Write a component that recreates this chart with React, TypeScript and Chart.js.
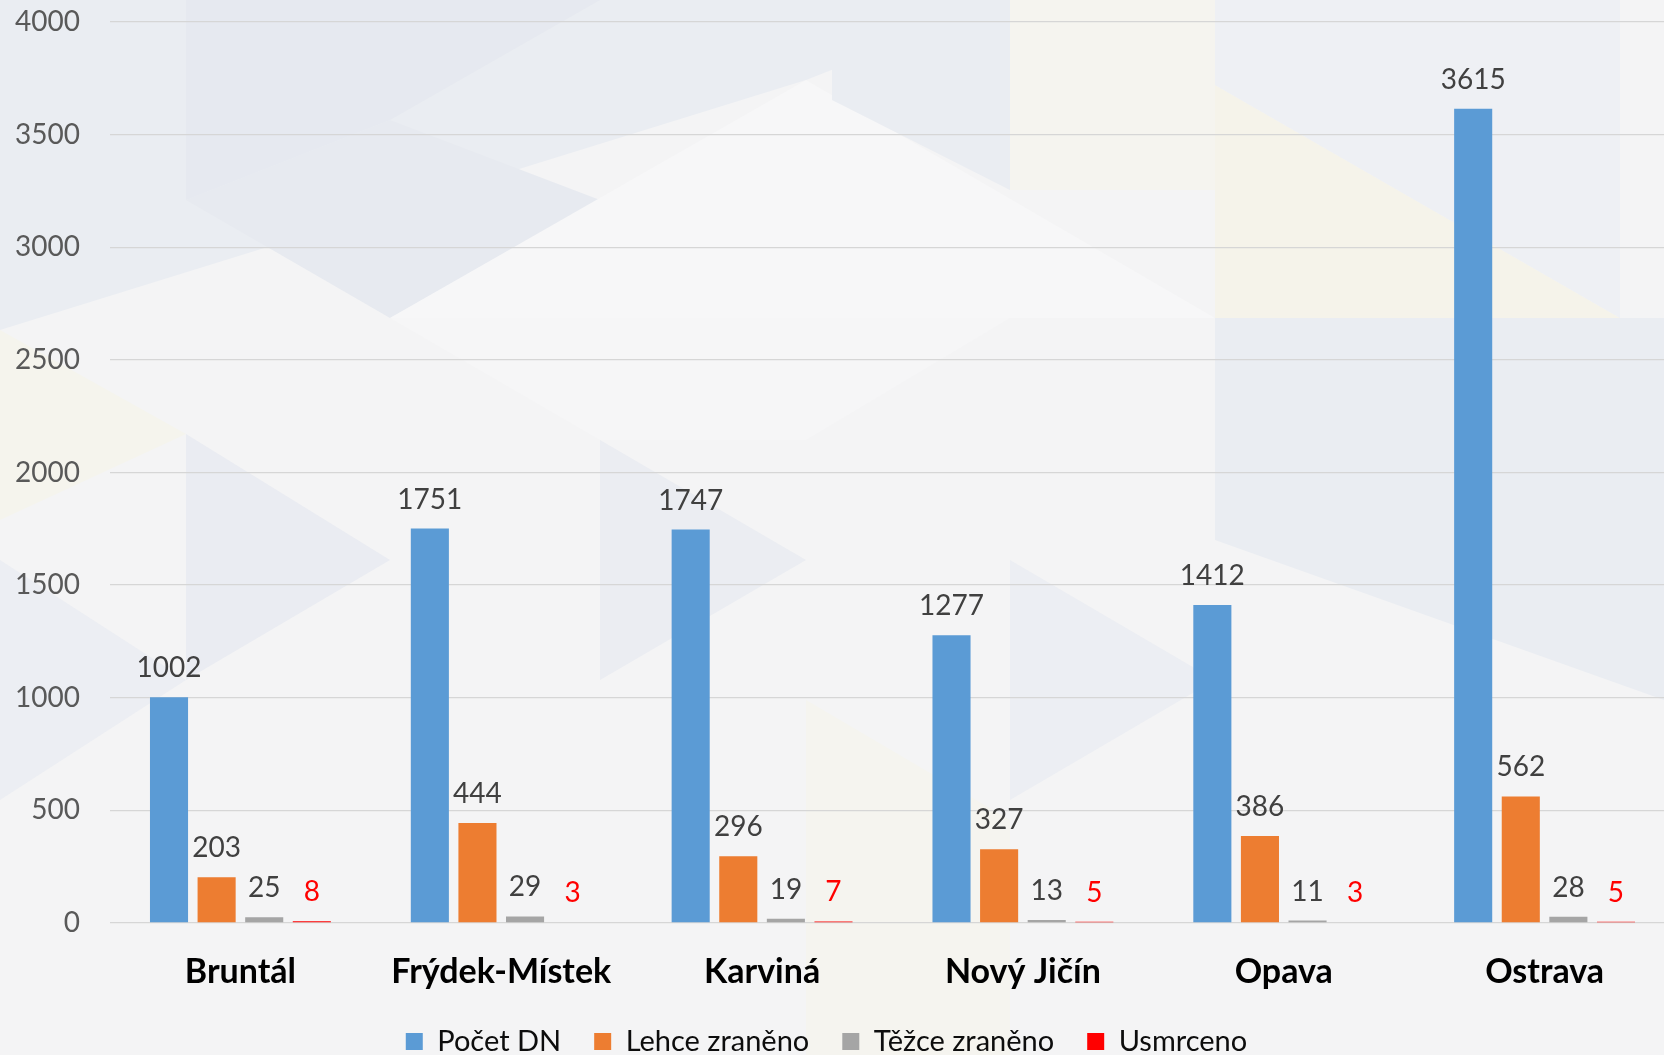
import React, { useEffect, useRef } from "react";
import { Chart, registerables } from "chart.js";

Chart.register(...registerables);

const categories = ["Bruntál", "Frýdek-Místek", "Karviná", "Nový Jičín", "Opava", "Ostrava"];
const pocetDN = [1002, 1751, 1747, 1277, 1412, 3615];
const lehceZraneno = [203, 444, 296, 327, 386, 562];
const tezceZraneno = [25, 29, 19, 13, 11, 28];
const usmrceno = [8, 3, 7, 5, 3, 5];
const seriesNames = ["Počet DN", "Lehce zraněno", "Těžce zraněno", "Usmrceno"];
const seriesColors = ["#5B9BD5", "#ED7D31", "#A5A5A5", "#FF0000"];
const labelColors = ["#404040", "#404040", "#404040", "#FF0000"];
const yMin = 0;
const yMax = 4000;
const yStep = 500;

const FONT = "Lato, 'Open Sans', sans-serif";

const bgPlugin = {
  id: "bgTriangles",
  beforeDraw(chart: any) {
    const ctx = chart.ctx;
    const w = chart.width;
    const h = chart.height;
    ctx.save();
    ctx.fillStyle = "#f4f4f5";
    ctx.fillRect(0, 0, w, h);
    const tri = (pts: number[][], color: string) => {
      ctx.beginPath();
      ctx.moveTo(pts[0][0], pts[0][1]);
      for (let i = 1; i < pts.length; i++) ctx.lineTo(pts[i][0], pts[i][1]);
      ctx.closePath();
      ctx.fillStyle = color;
      ctx.fill();
    };
    // top-left bluish band
    tri([[0, 0], [1010, 0], [806, 80], [0, 330]], "#eaedf2");
    tri([[186, 0], [600, 0], [390, 120], [186, 200]], "#e6e9f0");
    tri([[390, 120], [600, 200], [390, 318], [186, 200]], "#e7eaf0");
    // white big triangle
    tri([[806, 80], [1215, 318], [390, 318]], "#f7f7f8");
    tri([[390, 318], [1010, 318], [806, 440], [600, 440]], "#f6f6f7");
    // top right
    tri([[1010, 0], [1215, 0], [1215, 190], [1010, 190]], "#f5f4ef");
    tri([[832, 0], [1010, 0], [1010, 190], [832, 100]], "#eaedf2");
    tri([[1215, 85], [1620, 318], [1215, 318]], "#f5f3ea");
    tri([[1215, 0], [1620, 0], [1620, 318], [1215, 85]], "#eef0f4");
    // right middle bluish
    tri([[1215, 318], [1664, 318], [1664, 700], [1215, 540]], "#eaedf2");
    // left cream
    tri([[0, 330], [186, 434], [0, 520]], "#f5f4ed");
    tri([[186, 434], [390, 560], [186, 680]], "#eaecf2");
    tri([[0, 560], [186, 680], [0, 800]], "#eceef3");
    // center
    tri([[600, 440], [806, 560], [600, 680]], "#ebedf2");
    tri([[1010, 560], [1215, 680], [1010, 800]], "#eceef3");
    tri([[806, 700], [1010, 820], [1010, 1055], [806, 1055]], "#f5f4ef");
    ctx.restore();
  },
};

const legendShiftPlugin = {
  id: "legendShift",
  afterLayout(chart: any) {
    const lg = chart.legend;
    if (lg) {
      lg.left -= 11;
      lg.right -= 11;
    }
  },
};

const dataLabelPlugin = {
  id: "dataLabels",
  afterDatasetsDraw(chart: any) {
    const ctx = chart.ctx;
    ctx.save();
    ctx.font = `28px ${FONT}`;
    ctx.textAlign = "center";
    ctx.textBaseline = "middle";
    chart.data.datasets.forEach((ds: any, di: number) => {
      const meta = chart.getDatasetMeta(di);
      meta.data.forEach((el: any, i: number) => {
        ctx.fillStyle = labelColors[di];
        ctx.fillText(String(ds.data[i]), el.x, el.y - 29);
      });
    });
    ctx.restore();
  },
};

export default function App() {
  const ref = useRef<HTMLCanvasElement | null>(null);
  useEffect(() => {
    if (!ref.current) return;
    const seriesData = [pocetDN, lehceZraneno, tezceZraneno, usmrceno];
    const chart = new Chart(ref.current, {
      type: "bar",
      data: {
        labels: categories,
        datasets: seriesNames.map((name, i) => ({
          label: name,
          data: seriesData[i],
          backgroundColor: seriesColors[i],
          borderColor: seriesColors[i],
          borderWidth: 0,
          categoryPercentage: 0.73,
          barPercentage: 0.8,
        })),
      },
      options: {
        responsive: false,
        animation: false,
        layout: { padding: { top: 22, left: 0, right: 0, bottom: 0 } },
        plugins: {
          tooltip: { enabled: false },
          legend: {
            position: "bottom",
            labels: {
              boxWidth: 17,
              boxHeight: 17,
              padding: 33,
              color: "#0d0d0d",
              font: { family: FONT, size: 29 },
            },
          },
        },
        scales: {
          x: {
            afterFit: (scale: any) => {
              scale.height = 71;
            },
            grid: { display: false, drawTicks: false },
            border: { display: false },
            ticks: {
              padding: 29,
              color: "#000000",
              font: { family: FONT, size: 34, weight: "bold" },
            },
          },
          y: {
            min: yMin,
            max: yMax,
            afterFit: (scale: any) => {
              scale.width = 110;
              scale.paddingTop = 0;
              scale.paddingBottom = 0;
            },
            grid: { color: "#d6d6d6", lineWidth: 1.3, drawTicks: false },
            border: { display: false },
            ticks: {
              stepSize: yStep,
              padding: 30,
              color: "#595959",
              font: { family: FONT, size: 28 },
              callback: (v: any) => String(v),
            },
          },
        },
      },
      plugins: [bgPlugin, legendShiftPlugin, dataLabelPlugin],
    });
    return () => chart.destroy();
  }, []);
  return (
    <div
      style={{
        position: "fixed",
        left: 0,
        top: 0,
        width: 1664,
        height: 1055,
        overflow: "hidden",
        background: "#f4f4f5",
      }}
    >
      <canvas ref={ref} width={1675} height={1066} style={{ display: "block" }} />
    </div>
  );
}
